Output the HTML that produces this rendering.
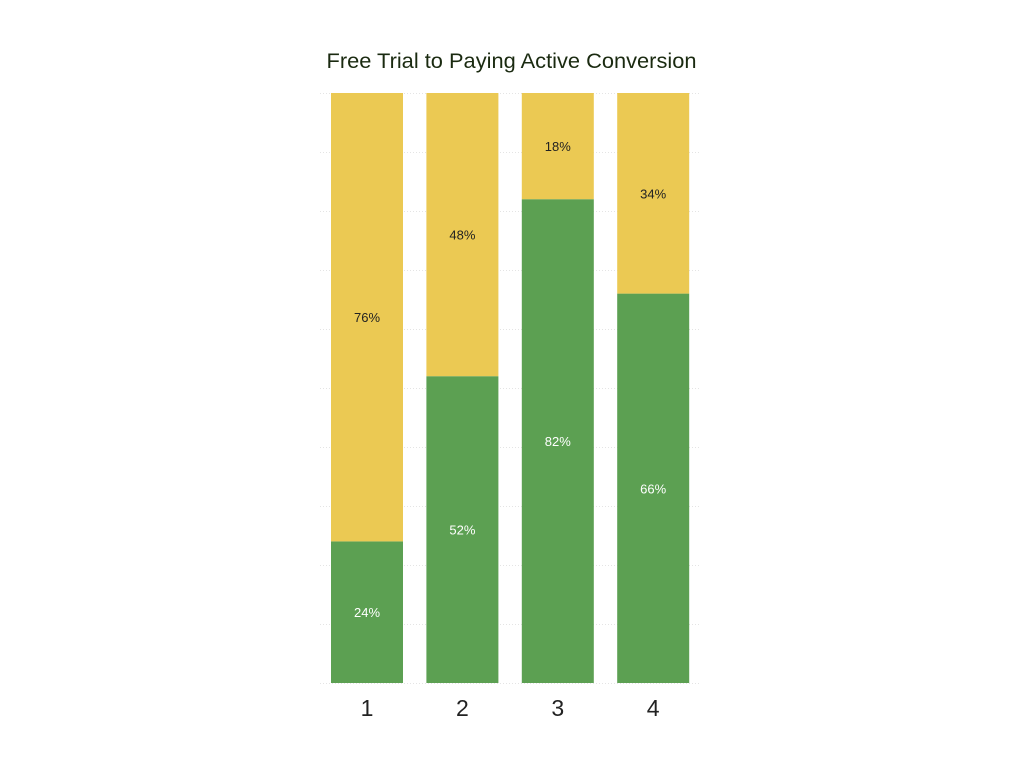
<!DOCTYPE html>
<html><head><meta charset="utf-8"><style>
html,body{margin:0;padding:0;background:#fff;width:1024px;height:768px;overflow:hidden;font-family:"Liberation Sans",sans-serif}
</style></head><body>
<svg id="chart" width="1024" height="768" xmlns="http://www.w3.org/2000/svg">
<text x="511.5" y="68" text-anchor="middle" font-size="21.5" fill="#1a2a10" textLength="370" lengthAdjust="spacingAndGlyphs" font-family="Liberation Sans, sans-serif">Free Trial to Paying Active Conversion</text>
<g id="grid"></g><g id="bars"></g><g id="labels"></g>
</svg>
<script>
const categories = ["1","2","3","4"];
const paying = [24,52,82,66];
const notPaying = [76,48,18,34];
const gridTicks = [0,10,20,30,40,50,60,70,80,90,100];

const top0 = 93, bottom0 = 683, plotL = 320, plotR = 700;
const firstX = 331, pitch = 95.4, bw = 72;
const y = v => bottom0 - (v/100)*(bottom0-top0);
const xPos = i => firstX + i*pitch;
const NS = "http://www.w3.org/2000/svg";
const grid = document.getElementById('grid'), bars = document.getElementById('bars'), labels = document.getElementById('labels');
function mk(tag, attrs, parent){const e=document.createElementNS(NS,tag);for(const k in attrs)e.setAttribute(k,attrs[k]);parent.appendChild(e);return e;}

gridTicks.forEach(t=>{
  const l = mk('line',{x1:plotL,x2:plotR,y1:y(t)+0.5,y2:y(t)+0.5,stroke:'#e4e4e4','stroke-width':1,'stroke-dasharray':'1,2'},grid);
  
  
});

categories.forEach((c,i)=>{
  const x = xPos(i);
  const g = mk('rect',{x:x,y:y(paying[i]),width:bw,height:y(0)-y(paying[i]),fill:'#5ca052'},bars);
  
  
  const yl = mk('rect',{x:x,y:y(paying[i]+notPaying[i]),width:bw,height:y(paying[i])-y(paying[i]+notPaying[i]),fill:'#ebc953'},bars);
  
  
  const t1 = mk('text',{x:x+bw/2,y:(y(0)+y(paying[i]))/2+5,'text-anchor':'middle','font-size':13,fill:'#fff'},labels);
  t1.textContent = paying[i]+'%';
  
  
  const t2 = mk('text',{x:x+bw/2,y:(y(paying[i])+y(paying[i]+notPaying[i]))/2+5,'text-anchor':'middle','font-size':13,fill:'#222'},labels);
  t2.textContent = notPaying[i]+'%';
  
  
  const t3 = mk('text',{x:x+bw/2,y:716,'text-anchor':'middle','font-size':23,fill:'#222'},labels);
  t3.textContent = c;
  
  
});
</script>
</body></html>
